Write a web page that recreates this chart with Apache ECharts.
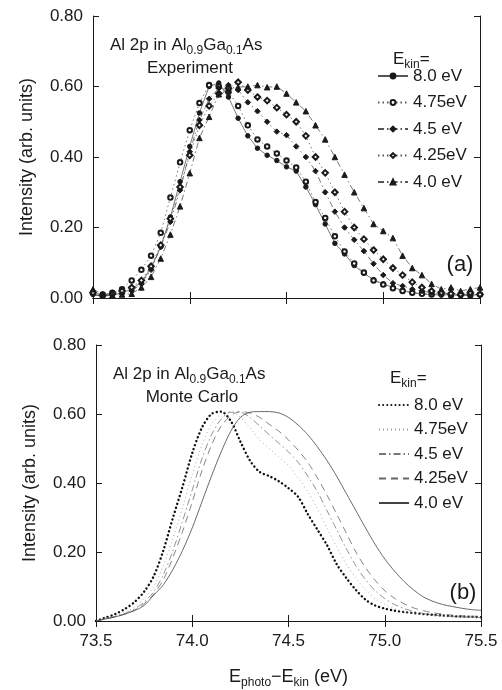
<!DOCTYPE html>
<html><head><meta charset="utf-8">
<script src="https://cdn.jsdelivr.net/npm/echarts@6/dist/echarts.min.js"></script>
<style>html,body{margin:0;padding:0;background:#fff}#c{width:502px;height:690px}</style>
</head><body><div id="c"></div>
<script>
// photon energy minus kinetic energy (eV)
const energies = [73.50,73.55,73.60,73.65,73.70,73.75,73.80,73.85,73.90,73.95,
  74.00,74.05,74.10,74.15,74.20,74.25,74.30,74.35,74.40,74.45,
  74.50,74.55,74.60,74.65,74.70,74.75,74.80,74.85,74.90,74.95,
  75.00,75.05,75.10,75.15,75.20,75.25,75.30,75.35,75.40,75.45,75.50];
const ekinLabels = ['8.0 eV','4.75eV','4.5 eV','4.25eV','4.0 eV'];

// (a) Experiment
const exp80 = [0.010,0.005,0.008,0.015,0.025,0.045,0.085,0.145,0.230,0.330,
  0.430,0.525,0.600,0.610,0.570,0.510,0.460,0.425,0.405,0.390,
  0.372,0.360,0.315,0.265,0.210,0.155,0.125,0.092,0.070,0.052,
  0.040,0.030,0.022,0.015,0.012,0.010,0.008,0.010,0.006,0.008,0.010];
const exp475 = [0.015,0.010,0.015,0.025,0.050,0.080,0.120,0.185,0.285,0.385,
  0.476,0.553,0.604,0.600,0.585,0.545,0.490,0.450,0.430,0.410,
  0.390,0.370,0.330,0.272,0.227,0.175,0.132,0.098,0.072,0.050,
  0.038,0.028,0.020,0.015,0.012,0.010,0.012,0.008,0.010,0.008,0.010];
const exp45 = [0.010,0.005,0.010,0.012,0.020,0.040,0.080,0.145,0.216,0.306,
  0.415,0.505,0.565,0.595,0.604,0.590,0.555,0.530,0.500,0.472,
  0.462,0.430,0.400,0.360,0.300,0.245,0.200,0.165,0.133,0.097,
  0.065,0.042,0.034,0.025,0.020,0.015,0.010,0.015,0.008,0.012,0.010];
const exp425 = [0.015,0.008,0.012,0.020,0.030,0.050,0.090,0.150,0.225,0.315,
  0.405,0.490,0.545,0.580,0.595,0.612,0.590,0.570,0.560,0.540,
  0.520,0.500,0.460,0.400,0.355,0.300,0.245,0.200,0.167,0.136,
  0.110,0.085,0.065,0.045,0.030,0.020,0.015,0.012,0.010,0.015,0.010];
const exp40 = [0.025,0.010,0.008,0.010,0.012,0.030,0.060,0.112,0.180,0.260,
  0.354,0.454,0.514,0.578,0.590,0.598,0.600,0.604,0.598,0.600,
  0.580,0.555,0.530,0.490,0.450,0.400,0.350,0.300,0.255,0.210,
  0.190,0.170,0.120,0.085,0.065,0.040,0.025,0.030,0.020,0.025,0.030];

// (b) Monte Carlo
const mc80 = [0.000,0.010,0.020,0.035,0.055,0.085,0.130,0.205,0.300,0.390,
  0.487,0.560,0.600,0.607,0.580,0.520,0.465,0.432,0.420,0.405,
  0.385,0.360,0.310,0.265,0.220,0.165,0.125,0.090,0.062,0.045,
  0.036,0.030,0.026,0.023,0.020,0.018,0.016,0.014,0.013,0.012,0.011];
const mc475 = [0.000,0.008,0.015,0.025,0.040,0.065,0.100,0.160,0.240,0.330,
  0.425,0.510,0.570,0.600,0.607,0.590,0.560,0.525,0.500,0.475,
  0.450,0.415,0.375,0.325,0.270,0.215,0.165,0.125,0.090,0.065,
  0.048,0.036,0.028,0.022,0.018,0.015,0.013,0.012,0.011,0.010,0.010];
const mc45 = [0.000,0.007,0.013,0.022,0.035,0.055,0.085,0.135,0.205,0.290,
  0.380,0.470,0.540,0.585,0.605,0.605,0.590,0.565,0.540,0.515,
  0.490,0.460,0.420,0.375,0.320,0.265,0.210,0.160,0.120,0.088,
  0.065,0.048,0.036,0.028,0.022,0.018,0.015,0.013,0.012,0.011,0.010];
const mc425 = [0.000,0.006,0.012,0.020,0.032,0.050,0.078,0.120,0.185,0.260,
  0.345,0.435,0.510,0.565,0.595,0.607,0.603,0.590,0.570,0.550,
  0.525,0.495,0.460,0.415,0.365,0.310,0.255,0.200,0.155,0.118,
  0.088,0.066,0.050,0.038,0.030,0.024,0.020,0.017,0.015,0.014,0.013];
const mc40 = [0.000,0.006,0.012,0.020,0.030,0.045,0.075,0.105,0.150,0.205,
  0.270,0.345,0.420,0.490,0.550,0.590,0.605,0.607,0.607,0.603,
  0.590,0.568,0.540,0.505,0.465,0.420,0.370,0.320,0.270,0.222,
  0.180,0.145,0.115,0.090,0.070,0.057,0.048,0.042,0.037,0.033,0.031];

const FONT = 'Liberation Sans';
const INK = '#1a1a1a';
const pair = ys => energies.map((x, i) => [x, ys[i]]);

const expSeries = [
  {ys: exp80,  symbol: 'circle',        size: 4.5, dash: 'solid'},
  {ys: exp475, symbol: 'emptyCircle',   size: 4.5, dash: [1.5, 3]},
  {ys: exp45,  symbol: 'diamond',       size: 5.5, dash: [6, 3, 1.5, 3]},
  {ys: exp425, symbol: 'emptyDiamond',  size: 5.5, dash: [1.5, 3]},
  {ys: exp40,  symbol: 'triangle',      size: 5.5, dash: [6, 3, 1.5, 3]}
];
const mcSeries = [
  {ys: mc80,  color: '#111', width: 2.4, dash: [0.1, 4], cap: 'round'},
  {ys: mc475, color: '#999', width: 0.8, dash: [1, 3], cap: 'butt'},
  {ys: mc45,  color: '#777', width: 0.8, dash: [7, 3, 1.5, 3], cap: 'butt'},
  {ys: mc425, color: '#666', width: 0.8, dash: [7, 5], cap: 'butt'},
  {ys: mc40,  color: '#444', width: 0.8, dash: 'solid', cap: 'butt'}
];

const series = [];
expSeries.forEach((s, i) => series.push({
  name: 'Experiment ' + ekinLabels[i], type: 'line', xAxisIndex: 0, yAxisIndex: 0,
  data: pair(s.ys), symbol: s.symbol, symbolSize: s.size, showSymbol: true,
  itemStyle: {color: INK, borderColor: INK, borderWidth: 1},
  lineStyle: {color: '#555', width: 0.8, type: s.dash}, animation: false, z: 3
}));
mcSeries.forEach((s, i) => series.push({
  name: 'Monte Carlo ' + ekinLabels[i], type: 'line', xAxisIndex: 2, yAxisIndex: 2,
  data: pair(s.ys), symbol: 'none', smooth: 0.3,
  itemStyle: {color: s.color},
  lineStyle: {color: s.color, width: s.width, type: s.dash, cap: s.cap}, animation: false
}));

const grids = [
  {left: 93, top: 16, width: 387, height: 282},
  {left: 96, top: 345, width: 385, height: 281}
];
const yName = 'Intensity (arb. units)';
const tickCommon = {inside: true, length: 6, lineStyle: {color: INK, width: 1}};
const lineCommon = {show: true, lineStyle: {color: INK, width: 1}};
const xAxes = [], yAxes = [];
[0, 1].forEach(g => {
  xAxes.push({
    type: 'value', gridIndex: g, min: 73.5, max: 75.5, interval: 0.5, position: 'bottom',
    axisLine: lineCommon, axisTick: tickCommon, splitLine: {show: false},
    axisLabel: {show: g === 1, color: INK, fontFamily: FONT, fontSize: 17, margin: 12,
      formatter: v => v.toFixed(1)},
    name: g === 1 ? '{n|E}{s|photo}{n|−E}{s|kin}{n| (eV)}' : '',
    nameLocation: 'middle', nameGap: 44,
    nameTextStyle: {color: INK, fontFamily: FONT, fontSize: 18,
      rich: {n: {fontFamily: FONT, fontSize: 18, color: INK},
             s: {fontFamily: FONT, fontSize: 12, color: INK, padding: [12, 0, 0, 0]}}}
  });
  xAxes.push({
    type: 'value', gridIndex: g, min: 73.5, max: 75.5, interval: 0.5, position: 'top',
    axisLine: lineCommon, axisTick: tickCommon, axisLabel: {show: false}, splitLine: {show: false}
  });
  yAxes.push({
    type: 'value', gridIndex: g, min: 0, max: 0.8, interval: 0.2, position: 'left',
    axisLine: lineCommon, axisTick: tickCommon, splitLine: {show: false},
    axisLabel: {color: INK, fontFamily: FONT, fontSize: 17, margin: 10, formatter: v => v.toFixed(2)},
    name: yName, nameLocation: 'middle', nameGap: 57, nameRotate: 90,
    nameTextStyle: {color: INK, fontFamily: FONT, fontSize: 18}
  });
  yAxes.push({
    type: 'value', gridIndex: g, min: 0, max: 0.8, interval: 0.2, position: 'right',
    axisLine: lineCommon, axisTick: tickCommon, axisLabel: {show: false}, splitLine: {show: false}
  });
});

const legendText = {color: INK, fontFamily: FONT, fontSize: 17, lineHeight: 18};
const legends = [
  {data: ekinLabels.map(l => 'Experiment ' + l), left: 372, top: 62, itemGap: 8.5, itemHeight: 6},
  {data: ekinLabels.map(l => 'Monte Carlo ' + l), left: 373, top: 391, itemGap: 6.5, itemHeight: 6,
   itemStyle: {opacity: 0}}
].map(l => Object.assign({
  orient: 'vertical', itemWidth: 30, textStyle: legendText,
  selectedMode: false, formatter: n => n.replace(/^(Experiment|Monte Carlo) /, '')
}, l));

const rich = {
  n: {fontFamily: FONT, fontSize: 17, fill: INK},
  s: {fontFamily: FONT, fontSize: 12, fill: INK, padding: [11, 0, 0, 0]}
};
const txt = (x, y, text, align, size) => ({
  type: 'text', x, y, silent: true,
  style: {text, rich: size ? {n: {fontFamily: FONT, fontSize: size, fill: INK}} : rich,
    fill: INK, font: '17px ' + FONT, textAlign: align || 'left', textVerticalAlign: 'middle'}
});
const graphic = [
  txt(110, 45, '{n|Al 2p in Al}{s|0.9}{n|Ga}{s|0.1}{n|As}'),
  txt(190, 68, '{n|Experiment}', 'center'),
  txt(393, 59, '{n|E}{s|kin}{n|=}'),
  txt(460, 265, '{n|(a)}', 'center', 22),
  txt(113, 374, '{n|Al 2p in Al}{s|0.9}{n|Ga}{s|0.1}{n|As}'),
  txt(192, 397, '{n|Monte Carlo}', 'center'),
  txt(390, 378, '{n|E}{s|kin}{n|=}'),
  txt(463, 593, '{n|(b)}', 'center', 22)
];

const chart = echarts.init(document.getElementById('c'), null, {renderer: 'canvas'});
chart.setOption({
  backgroundColor: '#fff', animation: false,
  grid: grids, xAxis: xAxes, yAxis: yAxes, series, legend: legends, graphic
});
</script></body></html>
